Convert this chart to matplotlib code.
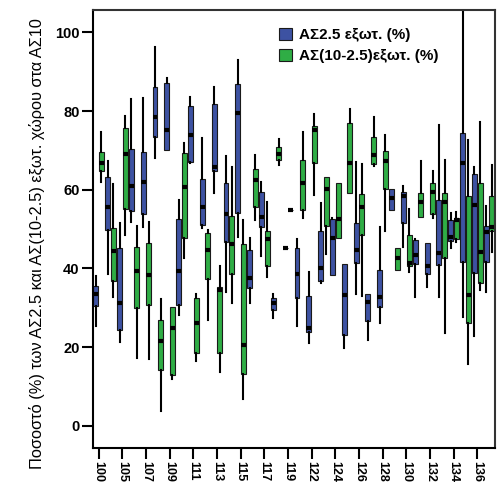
import matplotlib
matplotlib.use('Agg')
import matplotlib.pyplot as plt
from matplotlib.patches import Patch

categories = ['100', '103', '105', '106', '107', '108', '109', '110', '111', '112',
              '113', '114', '115', '116', '117', '118', '119', '121', '122', '123',
              '124', '125', '126', '127', '128', '129', '130', '131', '132', '133',
              '134', '135', '136', '137']

series_names = ['ΑΣ2.5 εξωτ. (%)', 'ΑΣ(10-2.5)εξωτ. (%)']

# Series 1 (blue): whisker low, Q1, median, Q3, whisker high
s1_low = [25.3, 38.6, 21.4, 51.7, 50.6, 68.0, 70.1, 28.2, 66.8, 50.3, 59.2, 34.1, 47.9, 31.3, 43.1, 27.3, 45.3,
          25.3, 20.9, 36.2, 38.3, 19.7, 33.6, 21.8, 26.0, 54.8, 45.5, 32.6, 35.2, 32.6, 45.1, 27.7, 22.8, 34.1]
s1_q1 = [30.4, 49.7, 24.3, 54.6, 53.7, 73.5, 70.1, 30.7, 67.1, 51.0, 64.8, 46.8, 54.0, 35.1, 50.6, 29.4, 45.3,
         32.5, 23.9, 36.8, 38.3, 23.1, 41.3, 26.7, 30.1, 54.8, 51.6, 41.1, 38.6, 40.8, 47.0, 41.7, 38.7, 41.7]
s1_med = [33.5, 55.7, 31.1, 61.0, 62.0, 78.6, 75.2, 39.4, 74.0, 55.5, 65.7, 53.8, 79.6, 37.6, 53.1, 31.1, 45.3,
          38.6, 24.9, 40.0, 47.7, 33.2, 44.7, 31.5, 32.8, 57.8, 58.4, 43.4, 40.7, 43.8, 48.1, 66.9, 56.1, 49.2]
s1_q3 = [35.5, 63.3, 45.1, 70.3, 69.5, 86.0, 87.2, 52.5, 81.4, 62.6, 81.7, 61.6, 87.0, 44.7, 59.4, 32.5, 45.3,
         45.3, 33.1, 49.5, 52.5, 41.0, 51.6, 33.6, 39.7, 60.3, 59.5, 47.1, 46.4, 57.4, 52.3, 74.3, 64.0, 50.8]
s1_high = [38.1, 67.3, 51.6, 83.0, 83.2, 96.2, 88.3, 57.4, 83.5, 73.1, 86.2, 68.7, 93.0, 47.6, 62.0, 33.6, 45.3,
           47.4, 39.2, 56.5, 52.7, 41.1, 67.1, 33.6, 50.6, 60.3, 60.9, 47.4, 46.4, 76.4, 54.2, 110.0, 65.8, 55.8]

# Series 2 (green)
s2_low = [62.0, 32.8, 48.5, 17.1, 16.9, 3.8, 11.8, 42.7, 16.5, 26.9, 13.7, 31.3, 6.9, 52.3, 37.9, 66.4, 54.8,
          52.7, 58.6, 43.6, 47.6, 59.1, 32.9, 66.0, 49.6, 39.7, 39.2, 53.1, 52.8, 23.6, 46.8, 15.8, 34.5, 44.2]
s2_q1 = [64.8, 36.9, 55.2, 29.8, 30.7, 14.2, 12.9, 47.7, 18.6, 37.4, 18.6, 38.6, 13.1, 55.5, 40.7, 67.5, 54.8,
         54.8, 66.9, 50.8, 47.6, 59.1, 48.5, 66.5, 60.3, 39.7, 40.6, 53.1, 53.8, 42.7, 47.5, 26.1, 36.2, 49.6]
s2_med = [66.9, 44.5, 69.1, 39.3, 38.2, 21.6, 24.9, 60.8, 26.2, 44.7, 34.5, 46.2, 20.5, 62.5, 47.4, 69.1, 54.8,
          61.6, 75.2, 60.3, 52.5, 66.9, 55.7, 68.8, 67.4, 42.7, 41.3, 56.9, 59.5, 56.8, 52.3, 33.2, 44.1, 50.6]
s2_q3 = [69.7, 50.3, 75.8, 45.5, 46.4, 26.9, 30.1, 69.4, 32.5, 48.9, 35.2, 53.3, 46.1, 65.2, 49.6, 70.9, 54.8,
         67.5, 76.2, 63.3, 61.6, 77.0, 58.9, 73.5, 69.9, 45.1, 48.5, 59.2, 61.6, 59.2, 52.7, 58.4, 61.6, 58.4]
s2_high = [74.7, 61.4, 78.7, 50.8, 51.8, 32.1, 30.3, 71.8, 33.4, 49.7, 40.7, 65.8, 52.3, 68.8, 56.9, 72.8, 54.8,
           74.7, 79.2, 63.3, 61.6, 80.4, 66.5, 78.4, 73.9, 45.1, 55.0, 67.4, 64.8, 67.5, 54.4, 72.6, 77.3, 66.3]

y_ticks = [0, 20, 40, 60, 80, 100]
y_label = 'Ποσοστό (%) των ΑΣ2.5 και ΑΣ(10-2.5) εξωτ. χώρου στα ΑΣ10'

colors = ['#3D52A2', '#2FAD45']

plt.rcParams['font.family'] = ['Liberation Sans', 'DejaVu Sans']

fig = plt.figure(figsize=(5, 5), dpi=100)
ax = fig.add_axes([0.1854, 0.1046, 0.8046, 0.8754])


def make_stats(lo, q1, med, q3, hi):
    return [dict(whislo=a, q1=b, med=c, q3=d, whishi=e, fliers=[])
            for a, b, c, d, e in zip(lo, q1, med, q3, hi)]


n = len(categories)
stats_sets = [make_stats(s1_low, s1_q1, s1_med, s1_q3, s1_high),
              make_stats(s2_low, s2_q1, s2_med, s2_q3, s2_high)]
offsets = [-0.235, 0.235]
for stats, off, col in zip(stats_sets, offsets, colors):
    ax.bxp(stats, positions=[i + off for i in range(n)], widths=0.42,
           patch_artist=True, showcaps=False, showfliers=False,
           boxprops=dict(facecolor=col, edgecolor='#1a1a1a', linewidth=0.8),
           whiskerprops=dict(color='black', linewidth=1.5),
           medianprops=dict(color='black', linewidth=3, solid_capstyle='butt'),
           manage_ticks=False)

ax.set_xlim(-0.5, n - 0.5)
ax.set_ylim(-5.6, 105.7)
ax.set_yticks(y_ticks)
ax.set_yticklabels([str(v) for v in y_ticks], fontsize=10.5, fontweight='bold')
ax.set_xticks(range(0, n, 2))
ax.set_xticklabels(categories[::2], rotation=-90, fontsize=9, fontweight='bold')
ax.tick_params(axis='both', length=8, width=1.5, pad=1.5, color='black')

for s in ax.spines.values():
    s.set_linewidth(1.5)
    s.set_color('#333333')
ax.spines['left'].set_color('black')
ax.spines['bottom'].set_color('black')

fig.text(0.074, 0.512, y_label, rotation=90, fontsize=11.8, ha='center', va='center')

handles = [Patch(facecolor=c, edgecolor='#1a1a1a', linewidth=0.8) for c in colors]
ax.legend(handles, series_names, loc='upper left', bbox_to_anchor=(0.462, 0.96),
          frameon=False, prop=dict(weight='bold', size=11),
          handlelength=0.85, handleheight=0.85, handletextpad=0.5,
          borderaxespad=0, borderpad=0, labelspacing=0.45)

fig.savefig('out.png', dpi=100)
